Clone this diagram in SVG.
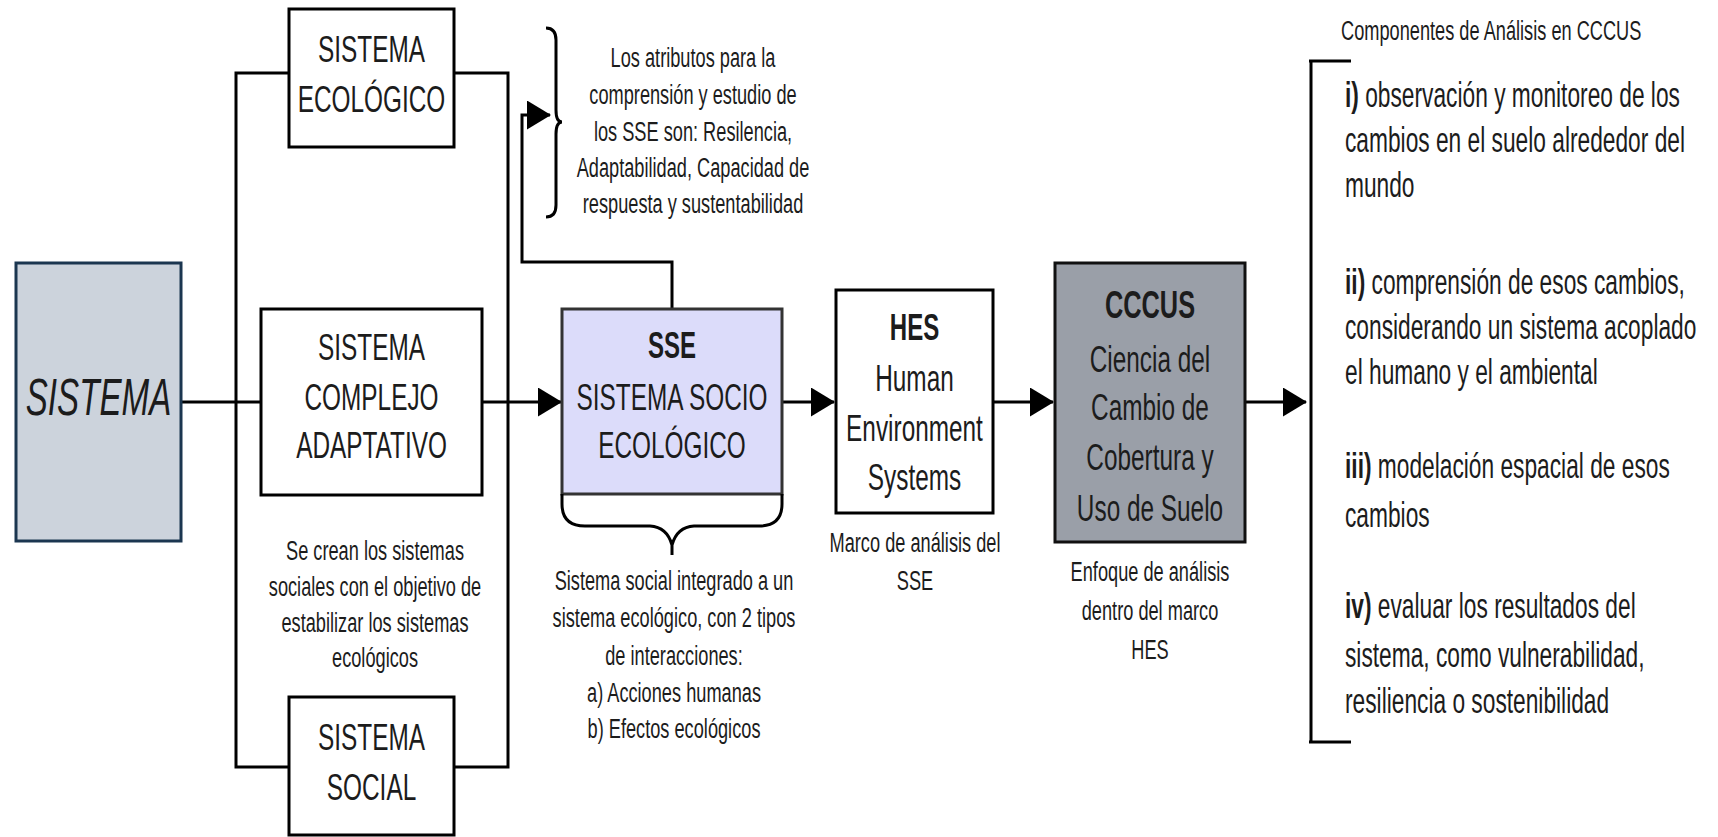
<svg xmlns="http://www.w3.org/2000/svg" width="1718" height="837" viewBox="0 0 1718 837">
<style>
.t{font-family:"Liberation Sans",Arial,sans-serif;fill:#1c1c1c}
.c{text-anchor:middle}
.box{font-size:37.5px}
.sm{font-size:28px}
.lst{font-size:35px}
.b{font-weight:bold}
.ln{fill:none;stroke:#000;stroke-width:3}
</style>
<defs>
<marker id="ah" viewBox="0 0 24 29" refX="23" refY="14.5" markerWidth="24" markerHeight="29" markerUnits="userSpaceOnUse" orient="auto">
<path d="M0,0 L24,14.5 L0,29 Z" fill="#000"/>
</marker>
</defs>

<g id="connectors">
<path class="ln" d="M181,402 H261"/>
<path class="ln" d="M289,73 H236 V767 H289"/>
<path class="ln" d="M454,73 H508 V767 H454"/>
<path class="ln" d="M482,402 H561" marker-end="url(#ah)"/>
<path class="ln" d="M672,309 V262 H522 V115 H550" marker-end="url(#ah)"/>
<path class="ln" d="M782,402 H834" marker-end="url(#ah)"/>
<path class="ln" d="M993,402 H1053" marker-end="url(#ah)"/>
<path class="ln" d="M1245,402 H1306" marker-end="url(#ah)"/>
</g>

<g id="n-sistema">
<rect x="16" y="263" width="165" height="278" fill="#ccd3dc" stroke="#1b3650" stroke-width="3"/>
<g transform="translate(98.5 0) scale(0.65 1)"><text class="t c" y="415" font-size="51" font-style="italic">SISTEMA</text></g>
</g>

<g id="n-ecologico">
<rect x="289" y="9" width="165" height="138" fill="#fff" stroke="#000" stroke-width="3"/>
<g transform="translate(371.5 0) scale(0.65 1)" class="t c box">
<text class="t c box" y="62">SISTEMA</text>
<text class="t c box" y="112">ECOLÓGICO</text>
</g>
</g>

<g id="n-complejo">
<rect x="261" y="309" width="221" height="186" fill="#fff" stroke="#000" stroke-width="3"/>
<g transform="translate(371.5 0) scale(0.65 1)">
<text class="t c box" y="360">SISTEMA</text>
<text class="t c box" y="410">COMPLEJO</text>
<text class="t c box" y="458">ADAPTATIVO</text>
</g>
</g>

<g id="n-social">
<rect x="289" y="697" width="165" height="138" fill="#fff" stroke="#000" stroke-width="3"/>
<g transform="translate(371.5 0) scale(0.65 1)">
<text class="t c box" y="750">SISTEMA</text>
<text class="t c box" y="800">SOCIAL</text>
</g>
</g>

<g id="note-crean">
<g transform="translate(375 0) scale(0.65 1)">
<text class="t c sm" y="560">Se crean los sistemas</text>
<text class="t c sm" y="596">sociales con el objetivo de</text>
<text class="t c sm" y="632">estabilizar los sistemas</text>
<text class="t c sm" y="667">ecológicos</text>
</g>
</g>

<g id="note-atributos">
<path class="ln" stroke-width="2.5" d="M546,28 Q556,28 556,40 V110 Q556,122 562,122 Q556,122 556,134 V205 Q556,217 546,217"/>
<g transform="translate(693 0) scale(0.65 1)">
<text class="t c sm" y="67">Los atributos para la</text>
<text class="t c sm" y="104">comprensión y estudio de</text>
<text class="t c sm" y="141">los SSE son: Resilencia,</text>
<text class="t c sm" y="177">Adaptabilidad, Capacidad de</text>
<text class="t c sm" y="213">respuesta y sustentabilidad</text>
</g>
</g>

<g id="n-sse">
<rect x="562" y="309" width="220" height="185" fill="#dcdcfa" stroke="#333" stroke-width="3"/>
<path class="ln" stroke="#111" d="M562,494 V504 Q562,526 585,526 H650 Q667,527 672,545 V555 M782,494 V504 Q782,526 759,526 H694 Q677,527 672,545"/>
<g transform="translate(672 0) scale(0.65 1)">
<text class="t c b" font-size="37" y="358">SSE</text>
<text class="t c box" y="410">SISTEMA SOCIO</text>
<text class="t c box" y="458">ECOLÓGICO</text>
</g>
<g transform="translate(674 0) scale(0.65 1)">
<text class="t c sm" y="590">Sistema social integrado a un</text>
<text class="t c sm" y="627">sistema ecológico, con 2 tipos</text>
<text class="t c sm" y="665">de interacciones:</text>
<text class="t c sm" y="702">a) Acciones humanas</text>
<text class="t c sm" y="738">b) Efectos ecológicos</text>
</g>
</g>

<g id="n-hes">
<rect x="836" y="290" width="157" height="223" fill="#fff" stroke="#000" stroke-width="3"/>
<g transform="translate(914.5 0) scale(0.65 1)">
<text class="t c b" font-size="37" y="340">HES</text>
<text class="t c box" y="391">Human</text>
<text class="t c box" y="441">Environment</text>
<text class="t c box" y="490">Systems</text>
</g>
<g transform="translate(915 0) scale(0.65 1)">
<text class="t c sm" y="552">Marco de análisis del</text>
<text class="t c sm" y="590">SSE</text>
</g>
</g>

<g id="n-cccus">
<rect x="1055" y="263" width="190" height="279" fill="#9a9fa8" stroke="#111" stroke-width="3"/>
<g transform="translate(1150 0) scale(0.65 1)">
<text class="t c b" font-size="39" y="318">CCCUS</text>
<text class="t c box" y="372">Ciencia del</text>
<text class="t c box" y="420">Cambio de</text>
<text class="t c box" y="470">Cobertura y</text>
<text class="t c box" y="521">Uso de Suelo</text>
</g>
<g transform="translate(1150 0) scale(0.65 1)">
<text class="t c sm" y="581">Enfoque de análisis</text>
<text class="t c sm" y="620">dentro del marco</text>
<text class="t c sm" y="659">HES</text>
</g>
</g>

<g id="n-componentes">
<path class="ln" d="M1311,61 V742"/>
<path class="ln" stroke-width="4" d="M1309,61 H1351 M1309,742 H1351"/>
<g transform="translate(1341 0) scale(0.65 1)">
<text class="t sm" x="0" y="40">Componentes de Análisis en CCCUS</text>
</g>
<g transform="translate(1345 0) scale(0.65 1)">
<text class="t lst" x="0" y="107"><tspan class="b">i)</tspan> observación y monitoreo de los</text>
<text class="t lst" x="0" y="152">cambios en el suelo alrededor del</text>
<text class="t lst" x="0" y="197">mundo</text>
<text class="t lst" x="0" y="294"><tspan class="b">ii)</tspan> comprensión de esos cambios,</text>
<text class="t lst" x="0" y="339">considerando un sistema acoplado</text>
<text class="t lst" x="0" y="384">el humano y el ambiental</text>
<text class="t lst" x="0" y="478"><tspan class="b">iii)</tspan> modelación espacial de esos</text>
<text class="t lst" x="0" y="527">cambios</text>
<text class="t lst" x="0" y="618"><tspan class="b">iv)</tspan> evaluar los resultados del</text>
<text class="t lst" x="0" y="667">sistema, como vulnerabilidad,</text>
<text class="t lst" x="0" y="713">resiliencia o sostenibilidad</text>
</g>
</g>
</svg>
